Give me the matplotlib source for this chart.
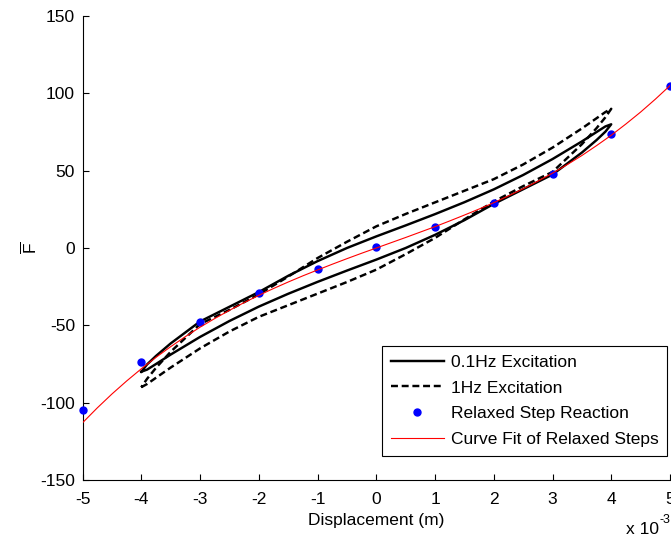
import matplotlib
matplotlib.use("Agg")
import matplotlib.pyplot as plt

plt.rcParams['font.family'] = ['Liberation Sans', 'DejaVu Sans']
plt.rcParams['mathtext.fontset'] = 'custom'
plt.rcParams['mathtext.rm'] = 'Liberation Sans'
plt.rcParams['mathtext.it'] = 'Liberation Sans'
plt.rcParams['lines.scale_dashes'] = False

# displacement in units of 1e-3 m
loop_x = [-4, -3.9, -3.75, -3.5, -3, -2.5, -2, -1.5, -1, -0.5, 0,
          0.5, 1, 1.5, 2, 2.5, 3, 3.5, 3.75, 3.9, 4]

# 0.1 Hz excitation loop (upper / lower branch)
slow_upper = [-80, -75.2, -69.8, -61.7, -47.5, -38.0, -28.5, -18.0, -8.5, 0.0, 7.5,
              14.6, 21.9, 29.6, 37.9, 47.2, 57.5, 68.9, 75.0, 78.6, 80]
slow_lower = [-80, -78.6, -75.0, -68.9, -57.5, -47.2, -37.9, -29.6, -21.9, -14.6, -7.5,
              0.0, 8.5, 18.0, 28.5, 38.0, 47.5, 61.7, 69.8, 75.2, 80]

# 1 Hz excitation loop (upper / lower branch)
fast_upper = [-90, -84.5, -77.5, -67.1, -49.2, -40.0, -30.0, -18.5, -6.5, 4.0, 14,
              22.0, 29.5, 37.0, 44.5, 54.0, 64.9, 77.3, 83.9, 87.9, 90]
fast_lower = [-90, -87.9, -83.9, -77.3, -64.9, -54.0, -44.5, -37.0, -29.5, -22.0, -14,
              -4.0, 6.5, 18.5, 30.0, 40.0, 49.2, 67.1, 77.5, 84.5, 90]

# relaxed step reactions
step_x = [-5, -4, -3, -2, -1, 0, 1, 2, 3, 4, 5]
step_f = [-105, -73.5, -48, -29, -13.5, 0.5, 13.5, 29, 48, 73.5, 105]

# curve fit of relaxed steps
fit_x = [-5, -4.75, -4.5, -4.25, -4, -3.75, -3.5, -3.25, -3, -2.75, -2.5,
         -2.25, -2, -1.75, -1.5, -1.25, -1, -0.75, -0.5, -0.25, 0,
         0.25, 0.5, 0.75, 1, 1.25, 1.5, 1.75, 2, 2.25, 2.5,
         2.75, 3, 3.25, 3.5, 3.75, 4, 4.25, 4.5, 4.75, 5]
fit_f = [-113.0, -103.4, -94.4, -86.0, -78.1, -70.7, -63.8, -57.3, -51.2, -45.6, -40.3,
         -35.3, -30.6, -26.2, -22.0, -18.0, -14.2, -10.5, -6.9, -3.4, 0.0,
         3.4, 6.8, 10.3, 13.8, 17.5, 21.3, 25.2, 29.3, 33.7, 38.3,
         43.2, 48.4, 53.9, 59.8, 66.2, 72.9, 80.2, 87.9, 96.2, 105.0]

x_ticks = [-5, -4, -3, -2, -1, 0, 1, 2, 3, 4, 5]
y_ticks = [-150, -100, -50, 0, 50, 100, 150]

fs = 12.5

fig = plt.figure(figsize=(6.71, 5.37), dpi=100)
ax = fig.add_axes([0.1230, 0.1061, 0.8755, 0.8641])

lw = 1.75
ax.plot(loop_x + loop_x[::-1], slow_lower + slow_upper[::-1], color='black',
        lw=lw, solid_joinstyle='round', label='0.1Hz Excitation')
ax.plot(loop_x + loop_x[::-1], fast_lower + fast_upper[::-1], color='black',
        lw=lw, dashes=(5.0, 2.7), label='1Hz Excitation')
ax.plot(step_x, step_f, linestyle='none', marker='o', markersize=5,
        color='#0000ff', clip_on=False, zorder=3, label='Relaxed Step Reaction')
ax.plot(fit_x, fit_f, color='#ff0000', lw=0.8, zorder=4,
        label='Curve Fit of Relaxed Steps')

ax.set_xlim(-5, 5)
ax.set_ylim(-150, 150)
ax.set_xticks(x_ticks)
ax.set_yticks(y_ticks)
ax.set_xticklabels([str(v) for v in x_ticks])
ax.set_yticklabels([str(v) for v in y_ticks])
ax.tick_params(direction='in', length=4.3, width=0.8, labelsize=fs,
               pad=5.5, colors='black')
ax.tick_params(axis='x', pad=8.3)
ax.spines['top'].set_visible(False)
ax.spines['right'].set_visible(False)
for s in ('left', 'bottom'):
    ax.spines[s].set_linewidth(0.8)

ax.set_xlabel('Displacement (m)', fontsize=fs, labelpad=4.5)
ax.set_ylabel(r'$\overline{\mathrm{F}}$', fontsize=fs, labelpad=0.8)

fig.text(626 / 671, 1 - 534 / 537, 'x 10', fontsize=fs, ha='left', va='baseline')
fig.text(660 / 671, 1 - 523 / 537, '-3', fontsize=9, ha='left', va='baseline')

leg = ax.legend(loc='lower right', bbox_to_anchor=(0.9949, 0.0517),
                fontsize=fs, frameon=True, fancybox=False, framealpha=1,
                edgecolor='black', borderpad=0.5, labelspacing=0.62,
                handlelength=3.05, handletextpad=0.38, borderaxespad=0)
leg.get_frame().set_linewidth(0.8)

fig.savefig('out.png', dpi=100)
